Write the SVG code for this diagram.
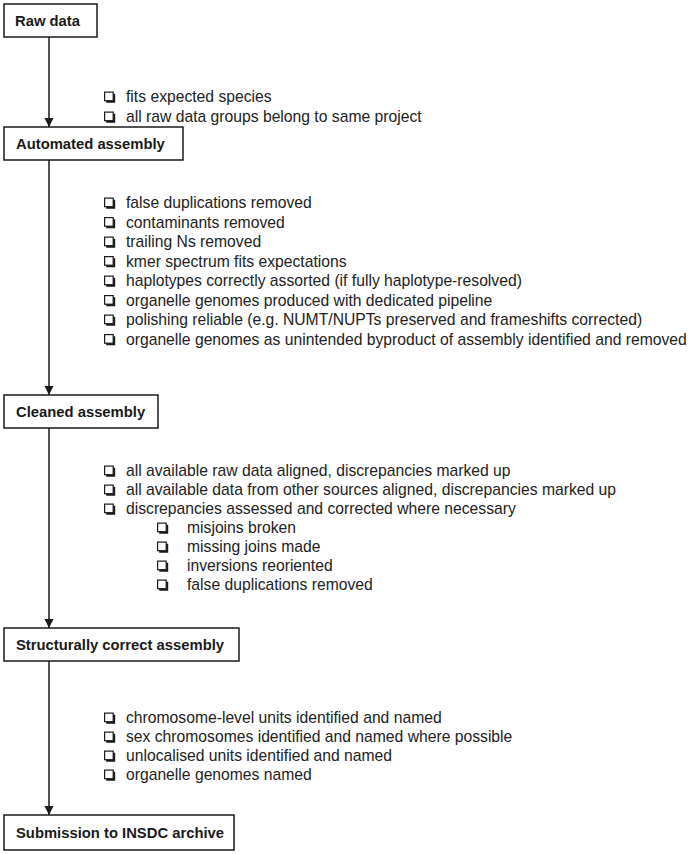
<svg xmlns="http://www.w3.org/2000/svg" xmlns:xlink="http://www.w3.org/1999/xlink" width="693" height="854" viewBox="0 0 693 854">
<style>
.box{fill:#fff;stroke:#1a1a1a;stroke-width:1.5}
.lbl{font-family:"Liberation Sans",Arial,sans-serif;font-weight:bold;font-size:14.8px;fill:#1a1a1a}
.item{font-family:"Liberation Sans",Arial,sans-serif;font-size:15.7px;fill:#222}
.conn{stroke:#1a1a1a;stroke-width:1.5;fill:none}
</style>
<defs>
<marker id="ah" markerWidth="10" markerHeight="10" refX="9" refY="5" orient="auto" markerUnits="userSpaceOnUse">
<path d="M0,0.5 L9,5 L0,9.5 Z" fill="#1a1a1a"/>
</marker>
<g id="cb">
<rect x="0.6" y="0.6" width="8.6" height="8.6" fill="#fff" stroke="#1a1a1a" stroke-width="1.2"/>
<path d="M2.2,10.2 H10.2 V2.2" fill="none" stroke="#1a1a1a" stroke-width="2"/>
</g>
</defs>
<rect width="693" height="854" fill="#fff"/>
<g id="connectors">
<line class="conn" x1="49" y1="37" x2="49" y2="127" marker-end="url(#ah)"/>
<line class="conn" x1="49" y1="160" x2="49" y2="395" marker-end="url(#ah)"/>
<line class="conn" x1="49" y1="428" x2="49" y2="628" marker-end="url(#ah)"/>
<line class="conn" x1="49" y1="661" x2="49" y2="815" marker-end="url(#ah)"/>
</g>
<g id="raw-data">
<rect class="box" x="4" y="4" width="93" height="33"/>
<text class="lbl" x="15" y="26">Raw data</text>
</g>
<g id="automated-assembly">
<rect class="box" x="4" y="127" width="179" height="33"/>
<text class="lbl" x="16" y="149">Automated assembly</text>
</g>
<g id="cleaned-assembly">
<rect class="box" x="4" y="395" width="154" height="33"/>
<text class="lbl" x="16" y="417">Cleaned assembly</text>
</g>
<g id="structurally-correct-assembly">
<rect class="box" x="4" y="628" width="235" height="33"/>
<text class="lbl" x="16" y="650">Structurally correct assembly</text>
</g>
<g id="submission">
<rect class="box" x="4" y="815" width="230" height="35"/>
<text class="lbl" x="16" y="838">Submission to INSDC archive</text>
</g>
<g id="checks-raw">
<use xlink:href="#cb" x="104" y="91.5"/><text class="item" x="126" y="102">fits expected species</text>
<use xlink:href="#cb" x="104" y="111.5"/><text class="item" x="126" y="122">all raw data groups belong to same project</text>
</g>
<g id="checks-automated">
<use xlink:href="#cb" x="104" y="197.5"/><text class="item" x="126" y="208">false duplications removed</text>
<use xlink:href="#cb" x="104" y="217"/><text class="item" x="126" y="227.5">contaminants removed</text>
<use xlink:href="#cb" x="104" y="236.5"/><text class="item" x="126" y="247">trailing Ns removed</text>
<use xlink:href="#cb" x="104" y="256"/><text class="item" x="126" y="266.5">kmer spectrum fits expectations</text>
<use xlink:href="#cb" x="104" y="275.5"/><text class="item" x="126" y="286">haplotypes correctly assorted (if fully haplotype-resolved)</text>
<use xlink:href="#cb" x="104" y="295"/><text class="item" x="126" y="305.5">organelle genomes produced with dedicated pipeline</text>
<use xlink:href="#cb" x="104" y="314.5"/><text class="item" x="126" y="325">polishing reliable (e.g. NUMT/NUPTs preserved and frameshifts corrected)</text>
<use xlink:href="#cb" x="104" y="334"/><text class="item" x="126" y="344.5">organelle genomes as unintended byproduct of assembly identified and removed</text>
</g>
<g id="checks-cleaned">
<use xlink:href="#cb" x="104" y="465.5"/><text class="item" x="126" y="476">all available raw data aligned, discrepancies marked up</text>
<use xlink:href="#cb" x="104" y="484.5"/><text class="item" x="126" y="495">all available data from other sources aligned, discrepancies marked up</text>
<use xlink:href="#cb" x="104" y="503.5"/><text class="item" x="126" y="514">discrepancies assessed and corrected where necessary</text>
<use xlink:href="#cb" x="157" y="522.5"/><text class="item" x="187" y="533">misjoins broken</text>
<use xlink:href="#cb" x="157" y="541.5"/><text class="item" x="187" y="552">missing joins made</text>
<use xlink:href="#cb" x="157" y="560.5"/><text class="item" x="187" y="571">inversions reoriented</text>
<use xlink:href="#cb" x="157" y="579.5"/><text class="item" x="187" y="590">false duplications removed</text>
</g>
<g id="checks-structural">
<use xlink:href="#cb" x="104" y="712.5"/><text class="item" x="126" y="723">chromosome-level units identified and named</text>
<use xlink:href="#cb" x="104" y="731.5"/><text class="item" x="126" y="742">sex chromosomes identified and named where possible</text>
<use xlink:href="#cb" x="104" y="750.5"/><text class="item" x="126" y="761">unlocalised units identified and named</text>
<use xlink:href="#cb" x="104" y="769.5"/><text class="item" x="126" y="780">organelle genomes named</text>
</g>
</svg>
